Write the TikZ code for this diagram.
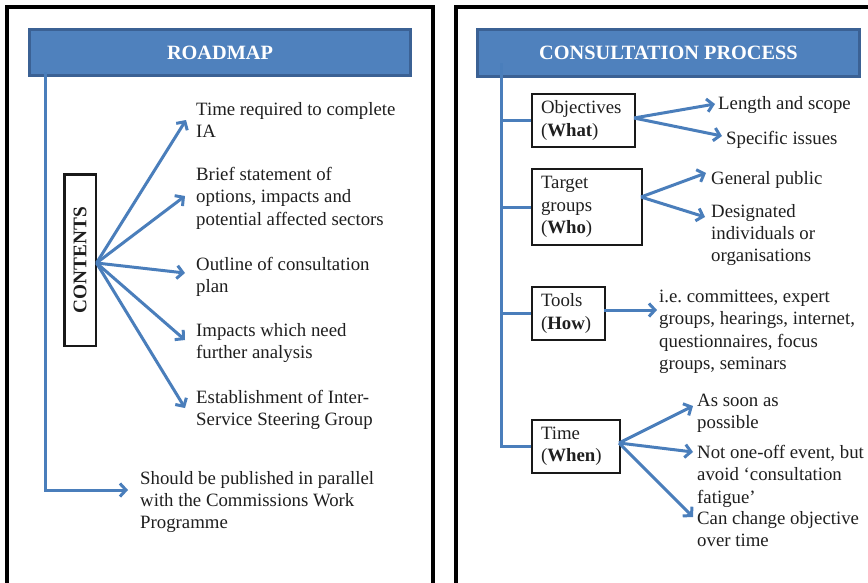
\documentclass[tikz,border=0pt]{standalone}
\usepackage{fontspec}
\setmainfont{Liberation Serif}
\usetikzlibrary{arrows.meta}
\definecolor{hdrfill}{HTML}{4F81BD}
\definecolor{hdrline}{HTML}{3B6194}
\definecolor{connc}{HTML}{4A7EBB}
\begin{document}
\begin{tikzpicture}[x=1pt,y=-1pt,
  every node/.style={font=\fontsize{18.8}{22.3}\selectfont, text=black!88},
  txt/.style={anchor=north west, inner sep=0pt, align=left},
  panel/.style={draw=black, line width=4pt},
  header/.style={draw=hdrline, fill=hdrfill, line width=3pt, text=white,
    font=\fontsize{20.3}{24}\selectfont\bfseries},
  itembox/.style={draw=black!90, line width=2pt, anchor=north west,
    inner xsep=9pt, inner ysep=0pt, align=left},
  conn/.style={draw=connc, line width=3pt},
  arr/.style={conn, -{Straight Barb[length=6pt,width=13pt]}}
]
\clip (0,0) rectangle (868,582);
\fill[white] (0,0) rectangle (868,582);
% panels
\draw[panel] (7,7) rectangle (432.5,620);
\draw[panel] (455.5,7) rectangle (900,620);
% headers
\node[header, minimum width=381pt, minimum height=46pt] (rm) at (220,52.5) {ROADMAP};
\node[header, minimum width=382pt, minimum height=47.5pt] (cp) at (668.5,53) {CONSULTATION PROCESS};

% ---------------- left panel ----------------
\node[draw=black!90, line width=2.5pt, rotate=90, minimum width=171.5pt, minimum height=31.5pt,
  inner sep=0pt, font=\fontsize{19.3}{22}\selectfont\bfseries] (contents) at (80,260) {CONTENTS};
\coordinate (cfan) at (96.5,263);

\node[txt] (t1) at (196,102) {Time required to complete\\IA};
\node[txt] (t2) at (196,167) {Brief statement of\\options, impacts and\\potential affected sectors};
\node[txt] (t3) at (196,257) {Outline of consultation\\plan};
\node[txt] (t4) at (196,323) {Impacts which need\\further analysis};
\node[txt] (t5) at (196,390) {Establishment of Inter-\\Service Steering Group};
\node[txt] (t6) at (140,471) {Should be published in parallel\\with the Commissions Work\\Programme};

\coordinate (a1) at (186,120);
\coordinate (a2) at (185,196);
\coordinate (a3) at (185,273);
\coordinate (a4) at (185,340);
\coordinate (a5) at (185,408);
\foreach \t in {a1,a2,a3,a4,a5} \draw[arr] (cfan) -- (\t);

\coordinate (lstart) at (45,72);
\coordinate (a6) at (128,490);
\draw[arr] (lstart) |- (a6);

% ---------------- right panel ----------------
\node[itembox, text width=85pt, minimum height=53pt] (obj) at (531,93) {Objectives\\(\textbf{What})};
\node[itembox, text width=92pt, minimum height=76pt] (tg) at (531,168) {Target\\groups\\(\textbf{Who})};
\node[itembox, text width=55pt, minimum height=53pt] (tools) at (531,286) {Tools\\(\textbf{How})};
\node[itembox, text width=70pt, minimum height=53pt] (time) at (531,419) {Time\\(\textbf{When})};

\coordinate (rstart) at (501,63);
\draw[conn] (rstart) |- (time.west);
\draw[conn] (obj.west) -- (obj.west -| rstart);
\draw[conn] (tg.west) -- (tg.west -| rstart);
\draw[conn] (tools.west) -- (tools.west -| rstart);

\node[txt] (r1) at (718,96) {Length and scope};
\node[txt] (r2) at (726,131) {Specific issues};
\node[txt] (r3) at (711,171) {General public};
\node[txt] (r4) at (711,204) {Designated\\individuals or\\organisations};
\node[txt] (r5) at (659,290) {i.e.\ committees, expert\\groups, hearings, internet,\\questionnaires, focus\\groups, seminars};
\node[txt] (r6) at (697,394) {As soon as\\possible};
\node[txt] (r7) at (697,445) {Not one-off event, but\\avoid `consultation\\fatigue'};
\node[txt] (r8) at (697,511) {Can change objective\\over time};

\coordinate (objo) at (634,118);
\coordinate (tgo) at (641,197);
\coordinate (toolo) at (604,310);
\coordinate (timeo) at (619,443);
\coordinate (b1) at (715,104);
\coordinate (b2) at (722,136);
\coordinate (b3) at (706,173);
\coordinate (b4) at (705,217);
\coordinate (b5) at (657,310);
\coordinate (b6) at (693,406);
\coordinate (b7) at (693,452);
\coordinate (b8) at (693,517);
\draw[arr] (objo) -- (b1);
\draw[arr] (objo) -- (b2);
\draw[arr] (tgo) -- (b3);
\draw[arr] (tgo) -- (b4);
\draw[arr] (toolo) -- (b5);
\draw[arr] (timeo) -- (b6);
\draw[arr] (timeo) -- (b7);
\draw[arr] (timeo) -- (b8);
\end{tikzpicture}
\end{document}
